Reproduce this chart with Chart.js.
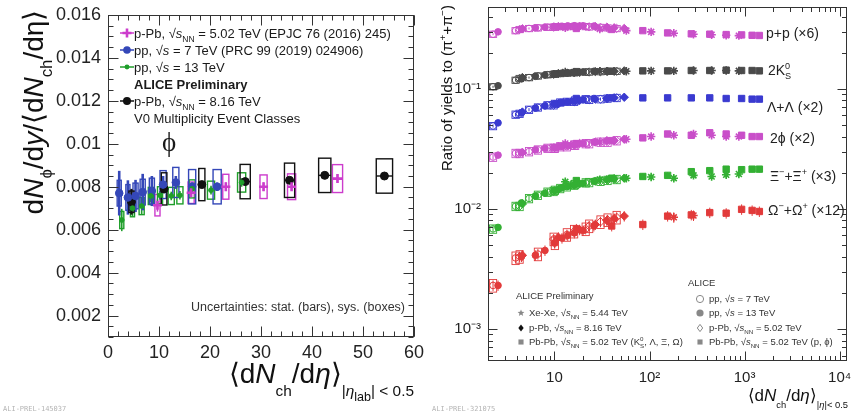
<!DOCTYPE html>
<html>
<head>
<meta charset="utf-8">
<title>phi yields vs multiplicity</title>
<script src="https://cdn.jsdelivr.net/npm/chart.js@4.4.1/dist/chart.umd.min.js"></script>
<style>
  html, body { margin: 0; padding: 0; background: #fff; }
  body { width: 853px; height: 414px; position: relative; overflow: hidden; }
  canvas { position: absolute; top: 0; }
  #phi-canvas { left: 0; }
  #ratio-canvas { left: 430px; }
</style>
</head>
<body>
<canvas id="phi-canvas" width="430" height="414"></canvas>
<canvas id="ratio-canvas" width="423" height="414"></canvas>
<script>
const SANS = '"Liberation Sans", Arial, Helvetica, sans-serif';
const SERIF = '"Liberation Serif", "Times New Roman", serif';

// ---- left panel: phi yield over <dNch/deta> ----
const phiXTicks = [0, 10, 20, 30, 40, 50, 60];
const phiYTicks = [0.002, 0.004, 0.006, 0.008, 0.010, 0.012, 0.014, 0.016];

// p-Pb 5.02 TeV (EPJC 76 (2016) 245)
const pPb5X = [9.7, 16.3, 23.1, 30.5, 36.0, 45.0];
const pPb5Y = [0.00714, 0.00772, 0.00800, 0.00800, 0.00800, 0.00838];
const pPb5Stat = [0.0003, 0.0002, 0.0002, 0.0002, 0.0002, 0.0002];
const pPb5Sys = [0.0005, 0.0005, 0.00058, 0.00055, 0.0006, 0.00065];
const pPb5SysX = [0.5, 0.6, 0.6, 0.7, 0.8, 1.0];

// pp 7 TeV (PRC 99 (2019) 024906)
const pp7X = [2.2, 3.9, 5.4, 6.8, 8.6, 10.8, 13.3, 16.5, 21.4];
const pp7Y = [0.0077, 0.0075, 0.00757, 0.00775, 0.0078, 0.0081, 0.0082, 0.0080, 0.0080];
const pp7Stat = [0.00104, 0.0008, 0.00075, 0.00085, 0.0007, 0.0004, 0.0003, 0.0002, 0.0002];
const pp7Sys = [0.0006, 0.0006, 0.0006, 0.0006, 0.0006, 0.00065, 0.0007, 0.0008, 0.0008];
const pp7SysX = [0.4, 0.4, 0.5, 0.5, 0.5, 0.6, 0.6, 0.7, 0.8];

// pp 13 TeV
const pp13X = [2.7, 4.8, 6.6, 8.4, 10.2, 12.4, 14.1, 16.5, 20.2, 26.2];
const pp13Y = [0.00645, 0.0070, 0.0071, 0.00757, 0.0076, 0.00757, 0.0076, 0.0079, 0.00784, 0.0082];
const pp13Stat = [0.00052, 0.0004, 0.0004, 0.0003, 0.0002, 0.0002, 0.0002, 0.0002, 0.0002, 0.0002];
const pp13Sys = [0.0004, 0.0004, 0.0004, 0.0004, 0.0004, 0.0004, 0.0004, 0.00042, 0.00042, 0.00045];
const pp13SysX = [0.4, 0.4, 0.5, 0.5, 0.5, 0.6, 0.6, 0.6, 0.7, 0.8];

// p-Pb 8.16 TeV (ALICE Preliminary)
const pPb8X = [4.6, 11.0, 18.4, 26.9, 35.6, 42.5, 54.2];
const pPb8Y = [0.0073, 0.0079, 0.0081, 0.00824, 0.0083, 0.00853, 0.0085];
const pPb8Stat = [0.0006, 0.0002, 0.0001, 0.0001, 0.0001, 0.0001, 0.0001];
const pPb8Sys = [0.0005, 0.00075, 0.00075, 0.0008, 0.0008, 0.0008, 0.0008];
const pPb8SysX = [0.5, 0.55, 0.6, 1.0, 1.0, 1.2, 1.6];

// ---- right panel: ratio of yields to (pi+ + pi-) ----
const ratioXTicks = [10, 100, 1000, 10000];
const ratioXLabels = ['10', '10²', '10³', '10⁴'];
const ratioYTicks = [0.001, 0.01, 0.1];
const ratioYLabels = ['10⁻³', '10⁻²', '10⁻¹'];

const sysPP7X = [2.26, 3.9, 5.4, 6.7, 8.45, 10.1, 11.5, 13.5, 16.5, 21.3];
const sysPP13X = [2.55, 4.5, 6.3, 7.95, 10.0, 12.0, 13.8, 16.2, 20.0, 26.0];
const sysPPb5X = [4.3, 9.8, 16.1, 23.2, 30.5, 36.2, 45.1];
const sysPPb8X = [4.6, 11.0, 18.4, 26.9, 35.6, 42.5, 54.2];
const sysPbPbX = [17, 40, 85, 155, 275, 430, 640, 930, 1200, 1430];
const sysXeXeX = [13, 30, 57, 104, 180, 290, 450, 640, 870];

const protonRatio = {
  pp7: [0.285, 0.305, 0.318, 0.322, 0.326, 0.328, 0.330, 0.330, 0.332, 0.330],
  pp13: [0.298, 0.314, 0.322, 0.326, 0.330, 0.332, 0.334, 0.335, 0.335, 0.333],
  pPb5: [0.312, 0.326, 0.330, 0.328, 0.325, 0.322, 0.318],
  pPb8: [0.316, 0.330, 0.332, 0.330, 0.326, 0.322, 0.318],
  PbPb: [0.318, 0.312, 0.305, 0.292, 0.287, 0.285, 0.283, 0.281, 0.279, 0.278],
  XeXe: [0.322, 0.315, 0.305, 0.298, 0.290, 0.285, 0.282, 0.279, 0.277],
};
const kaonRatio = {
  pp7: [0.104, 0.118, 0.124, 0.128, 0.131, 0.133, 0.134, 0.135, 0.137, 0.138],
  pp13: [0.106, 0.121, 0.127, 0.130, 0.133, 0.135, 0.136, 0.137, 0.138, 0.140],
  pPb5: [0.122, 0.132, 0.136, 0.138, 0.139, 0.140, 0.140],
  pPb8: [0.124, 0.134, 0.137, 0.139, 0.140, 0.140, 0.141],
  PbPb: [0.139, 0.140, 0.141, 0.141, 0.142, 0.142, 0.143, 0.142, 0.142, 0.141],
  XeXe: [0.138, 0.140, 0.140, 0.141, 0.141, 0.142, 0.142, 0.142, 0.141],
};
const lambdaRatio = {
  pp7: [0.049, 0.061, 0.067, 0.070, 0.073, 0.075, 0.077, 0.078, 0.080, 0.082],
  pp13: [0.052, 0.063, 0.069, 0.072, 0.075, 0.077, 0.078, 0.079, 0.081, 0.083],
  pPb5: [0.062, 0.073, 0.078, 0.081, 0.082, 0.083, 0.084],
  pPb8: [0.064, 0.075, 0.080, 0.082, 0.083, 0.084, 0.085],
  PbPb: [0.083, 0.084, 0.084, 0.084, 0.084, 0.084, 0.083, 0.083, 0.082, 0.082],
  XeXe: null,
};
const phiRatio = {
  pp7: [0.027, 0.029, 0.030, 0.031, 0.032, 0.032, 0.033, 0.033, 0.034, 0.035],
  pp13: [0.028, 0.0295, 0.031, 0.032, 0.0325, 0.033, 0.0335, 0.034, 0.035, 0.036],
  pPb5: [0.029, 0.032, 0.034, 0.035, 0.036, 0.036, 0.037],
  pPb8: [0.0295, 0.033, 0.035, 0.036, 0.037, 0.037, 0.038],
  PbPb: [0.035, 0.037, 0.039, 0.042, 0.041, 0.043, 0.042, 0.041, 0.040, 0.040],
  XeXe: [0.035, 0.036, 0.038, 0.040, 0.041, 0.042, 0.041, 0.040, 0.040],
};
const xiRatio = {
  pp7: [0.0068, 0.0105, 0.0122, 0.0130, 0.0138, 0.0143, 0.0148, 0.0153, 0.0160, 0.0165],
  pp13: [0.0070, 0.0112, 0.0128, 0.0135, 0.0142, 0.0150, 0.0154, 0.0158, 0.0163, 0.0170],
  pPb5: [0.0105, 0.0140, 0.0158, 0.0166, 0.0170, 0.0173, 0.0176],
  pPb8: [0.0110, 0.0145, 0.0162, 0.0170, 0.0175, 0.0178, 0.0180],
  PbPb: [0.0172, 0.0180, 0.0186, 0.0190, 0.0204, 0.0208, 0.0214, 0.0212, 0.0214, 0.0214],
  XeXe: [0.0168, 0.0175, 0.0180, 0.0184, 0.0180, 0.0190, 0.0186, 0.0192, 0.0195],
};
const omegaRatio = {
  pp7: [0.0023, 0.0039, null, 0.0042, null, 0.0052, null, 0.0061, null, 0.0068],
  pp13: [0.0023, 0.0040, 0.0041, 0.0045, 0.0052, 0.0057, 0.0060, 0.0063, 0.0066, 0.0072],
  pPb5: [0.0040, 0.0056, 0.0065, 0.0072, 0.0078, 0.0081, 0.0085],
  pPb8: [0.0041, 0.0058, 0.0067, 0.0074, 0.0080, 0.0083, 0.0087],
  PbPb: [0.0068, 0.0072, 0.0074, 0.0087, 0.0089, 0.0093, 0.0092, 0.0099, 0.0097, 0.0095],
  XeXe: [null, null, null, null, 0.0085, 0.0088, null, null, null],
};

// relative stat / sys uncertainty per species (proton, K0S, Lambda, phi, Xi, Omega)
const speciesStatRel = [0.02, 0.02, 0.03, 0.05, 0.06, 0.10];
const speciesSysRel = [0.06, 0.06, 0.07, 0.08, 0.08, 0.12];

// ---------------------------------------------------------------------------

// runs: [text, flags]; flags: i italic, b bold, s serif, _ sub, ^ sup, 2 sub-of-sub, k keep x
function drawRich(ctx, runs, x, y, size, opt = {}) {
  const subScale = opt.subScale || 0.65, subDy = opt.subDy || 0.3, supDy = opt.supDy || 0.42;
  const items = runs.map(([t, f = '']) => {
    let fs = size, dy = 0;
    if (f.includes('2')) { fs = size * 0.45; dy = size * (subDy + 0.18); }
    else if (f.includes('_')) { fs = size * subScale; dy = size * subDy; }
    else if (f.includes('^')) { fs = size * subScale; dy = -size * supDy; }
    const font = (f.includes('i') ? 'italic ' : '') + (f.includes('b') ? 'bold ' : '') +
      fs.toFixed(1) + 'px ' + (f.includes('s') ? SERIF : SANS);
    ctx.font = font;
    return { t, font, dy, w: ctx.measureText(t).width, keep: f.includes('k') };
  });
  const total = items.reduce((s, it) => s + (it.keep ? 0 : it.w), 0);
  let cx = x - (opt.align === 'center' ? total / 2 : opt.align === 'right' ? total : 0);
  ctx.textAlign = 'left';
  ctx.textBaseline = 'alphabetic';
  items.forEach(it => {
    ctx.font = it.font;
    ctx.fillText(it.t, cx, y + it.dy);
    if (!it.keep) cx += it.w;
  });
}

function drawMarker(ctx, style, x, y, r, color, open) {
  ctx.save();
  ctx.strokeStyle = color;
  ctx.fillStyle = color;
  ctx.lineWidth = 1;
  ctx.beginPath();
  if (style === 'circle') ctx.arc(x, y, r, 0, Math.PI * 2);
  else if (style === 'rect') ctx.rect(x - r * 0.71, y - r * 0.71, r * 1.42, r * 1.42);
  else if (style === 'rectRot') { ctx.moveTo(x, y - r); ctx.lineTo(x + r * 0.75, y); ctx.lineTo(x, y + r); ctx.lineTo(x - r * 0.75, y); ctx.closePath(); }
  else if (style === 'star') {
    for (let k = 0; k < 10; k++) {
      const a = -Math.PI / 2 + k * Math.PI / 5, rr = k % 2 ? r * 0.45 : r;
      ctx.lineTo(x + rr * Math.cos(a), y + rr * Math.sin(a));
    }
    ctx.closePath();
  }
  if (open) ctx.stroke(); else ctx.fill();
  ctx.restore();
}

const uncertaintyPlugin = {
  id: 'uncertainties',
  beforeDatasetsDraw(chart) {
    const { ctx } = chart;
    const xs = chart.scales.x, ys = chart.scales.y;
    ctx.save();
    chart.data.datasets.forEach(ds => {
      ds.data.forEach(p => {
        const px = xs.getPixelForValue(p.x);
        if (p.sys) {
          const l = p.sysX != null ? xs.getPixelForValue(p.x - p.sysX) : px - ds.boxHalf;
          const r = p.sysX != null ? xs.getPixelForValue(p.x + p.sysX) : px + ds.boxHalf;
          const t = ys.getPixelForValue(p.y + p.sys), b = ys.getPixelForValue(p.y - p.sys);
          ctx.strokeStyle = ds.boxColor;
          ctx.lineWidth = ds.boxWidth;
          ctx.strokeRect(l, t, r - l, b - t);
          if (ds.hbar) {
            ctx.beginPath();
            ctx.moveTo(l, ys.getPixelForValue(p.y));
            ctx.lineTo(r, ys.getPixelForValue(p.y));
            ctx.stroke();
          }
        }
        if (p.stat) {
          ctx.strokeStyle = ds.borderColor;
          ctx.lineWidth = ds.barWidth;
          ctx.beginPath();
          ctx.moveTo(px, ys.getPixelForValue(p.y + p.stat));
          ctx.lineTo(px, ys.getPixelForValue(p.y - p.stat));
          ctx.stroke();
        }
      });
    });
    ctx.restore();
  },
};

function drawFrame(chart, xMajor, xMinor, yMajor, yMinor, majLen, minLen) {
  const { ctx, chartArea: a } = chart;
  const xs = chart.scales.x, ys = chart.scales.y;
  const L = Math.round(a.left) + 0.5, R = Math.round(a.right) - 0.5;
  const T = Math.round(a.top) + 0.5, B = Math.round(a.bottom) - 0.5;
  ctx.save();
  ctx.strokeStyle = '#333';
  ctx.lineWidth = 1;
  ctx.strokeRect(L, T, R - L, B - T);
  ctx.beginPath();
  const tx = (v, len) => {
    const p = Math.round(xs.getPixelForValue(v)) + 0.5;
    ctx.moveTo(p, B); ctx.lineTo(p, B - len);
    ctx.moveTo(p, T); ctx.lineTo(p, T + len);
  };
  const ty = (v, len) => {
    const p = Math.round(ys.getPixelForValue(v)) + 0.5;
    ctx.moveTo(L, p); ctx.lineTo(L + len, p);
    ctx.moveTo(R, p); ctx.lineTo(R - len, p);
  };
  xMinor.forEach(v => tx(v, minLen));
  xMajor.forEach(v => tx(v, majLen));
  yMinor.forEach(v => ty(v, minLen));
  yMajor.forEach(v => ty(v, majLen));
  ctx.stroke();
  ctx.restore();
}

function linearSteps(from, to, step) {
  const out = [];
  for (let v = from; v <= to + step * 1e-6; v += step) out.push(+v.toFixed(6));
  return out;
}
function logMinors(min, max) {
  const out = [];
  for (let e = Math.floor(Math.log10(min)); e <= Math.ceil(Math.log10(max)); e++) {
    for (let m = 2; m <= 9; m++) {
      const v = m * Math.pow(10, e);
      if (v >= min && v <= max) out.push(v);
    }
  }
  return out;
}

// fixed axis box size; drop the label overhang padding so the frame lands where ROOT put it
function fixBox(w, h) {
  return s => {
    if (w != null) s.width = w;
    if (h != null) s.height = h;
    s.paddingLeft = s.paddingRight = s.paddingTop = s.paddingBottom = 0;
  };
}

function axisOptions(type, min, max, ticks, labels, font, padding, fit) {
  return {
    type, min, max,
    afterFit: fit,
    afterBuildTicks: s => { s.ticks = ticks.map(v => ({ value: v })); },
    ticks: {
      autoSkip: false, maxRotation: 0, padding, color: '#222',
      font: { family: SANS, size: font },
      callback: v => labels ? labels[ticks.indexOf(v)] : String(+v.toFixed(3)),
    },
    grid: { display: false, drawTicks: false },
    border: { display: false },
  };
}

// ---- left chart ----
function phiPoints(xs, ys, stat, sys, sysX) {
  return xs.map((x, i) => ({ x, y: ys[i], stat: stat[i], sys: sys[i], sysX: sysX[i] }));
}

const phiSeries = [
  { data: phiPoints(pPb5X, pPb5Y, pPb5Stat, pPb5Sys, pPb5SysX), color: '#cc3ccc', pointStyle: 'cross', radius: 4.5, bw: 2.6, barWidth: 1.5 },
  { data: phiPoints(pp13X, pp13Y, pp13Stat, pp13Sys, pp13SysX), color: '#1f9e2a', pointStyle: 'circle', radius: 2.4, bw: 1, barWidth: 1.6 },
  { data: phiPoints(pp7X, pp7Y, pp7Stat, pp7Sys, pp7SysX), color: '#3447b8', pointStyle: 'circle', radius: 3.8, bw: 1, barWidth: 2.6 },
  { data: phiPoints(pPb8X, pPb8Y, pPb8Stat, pPb8Sys, pPb8SysX), color: '#111111', pointStyle: 'circle', radius: 4, bw: 1, barWidth: 2.2, hbar: true },
];

const phiLegend = [
  { s: 0, runs: [['p-Pb, √'], ['s', 'i'], ['NN', '_'], [' = 5.02 TeV (EPJC 76 (2016) 245)']] },
  { s: 2, runs: [['pp, √'], ['s', 'i'], [' = 7 TeV (PRC 99 (2019) 024906)']] },
  { s: 1, runs: [['pp, √'], ['s', 'i'], [' = 13 TeV']] },
  { s: -1, runs: [['ALICE Preliminary', 'b']] },
  { s: 3, runs: [['p-Pb, √'], ['s', 'i'], ['NN', '_'], [' = 8.16 TeV']] },
  { s: -1, runs: [['V0 Multiplicity Event Classes']] },
];

const phiDecor = {
  id: 'phiDecor',
  afterDraw(chart) {
    const { ctx } = chart;
    drawFrame(chart, phiXTicks, linearSteps(0, 60, 2), phiYTicks, linearSteps(0.001, 0.016, 0.0005), 10, 5);
    ctx.save();
    ctx.fillStyle = '#1a1a1a';
    // legend
    phiLegend.forEach((row, i) => {
      const y = 33 + i * 17;
      if (row.s >= 0) {
        const s = phiSeries[row.s];
        ctx.strokeStyle = s.color; ctx.lineWidth = 1.5;
        ctx.beginPath(); ctx.moveTo(120, y); ctx.lineTo(134, y); ctx.stroke();
        if (s.pointStyle === 'cross') {
          ctx.lineWidth = 2.6; ctx.beginPath();
          ctx.moveTo(127, y - 4.5); ctx.lineTo(127, y + 4.5);
          ctx.moveTo(122.5, y); ctx.lineTo(131.5, y); ctx.stroke();
        } else drawMarker(ctx, 'circle', 127, y, s.radius, s.color, false);
      }
      ctx.fillStyle = '#1a1a1a';
      drawRich(ctx, row.runs, 134, y + 4.6, 13);
    });
    drawRich(ctx, [['\u03D5', 's']], 169, 151, 27, { align: 'center' });
    ctx.fillStyle = '#333';
    drawRich(ctx, [['Uncertainties: stat. (bars), sys. (boxes)']], 405, 311, 12.5, { align: 'right' });
    // axis titles
    ctx.fillStyle = '#111';
    ctx.save();
    ctx.translate(43, 112);
    ctx.rotate(-Math.PI / 2);
    drawRich(ctx, [['d'], ['N', 'i'], ['\u03D5', '_'], ['/d'], ['y', 'i'], ['/⟨d'], ['N', 'i'], ['ch', '_'], ['/dη⟩']],
      0, 0, 28, { align: 'center', subScale: 0.6, subDy: 0.32 });
    ctx.restore();
    drawRich(ctx, [['⟨d'], ['N', 'i'], ['ch', '_'], ['/d'], ['η', 'i'], ['⟩'], ['|', '_'], ['η', '_i'], ['lab', '2'], ['| < 0.5', '_']],
      414, 383, 28, { align: 'right', subScale: 0.55, subDy: 0.45 });
    ctx.fillStyle = '#b4b4b4';
    ctx.font = '7px "DejaVu Sans Mono", monospace';
    ctx.fillText('ALI-PREL-145037', 3, 411);
    ctx.restore();
  },
};

new Chart(document.getElementById('phi-canvas'), {
  type: 'scatter',
  data: {
    datasets: phiSeries.map(s => ({
      data: s.data, pointStyle: s.pointStyle, pointRadius: s.radius, pointBorderWidth: s.bw,
      borderColor: s.color, backgroundColor: s.color, barWidth: s.barWidth,
      boxColor: s.color, boxWidth: 1.4, hbar: s.hbar,
    })),
  },
  options: {
    responsive: false, animation: false, events: [],
    layout: { padding: { left: 0, right: 16, top: 15, bottom: 0 } },
    plugins: { legend: { display: false }, tooltip: { enabled: false } },
    scales: {
      x: axisOptions('linear', 0, 60, phiXTicks, null, 18, 5, fixBox(null, 77)),
      y: axisOptions('linear', 0.001, 0.016, phiYTicks, null, 18, 7, fixBox(108, null)),
    },
  },
  plugins: [uncertaintyPlugin, phiDecor],
});

// ---- right chart ----
const speciesTables = [protonRatio, kaonRatio, lambdaRatio, phiRatio, xiRatio, omegaRatio];
const speciesColors = ['#c94fc9', '#4a4a4a', '#3a3ad0', '#c94fc9', '#33b033', '#e23a3a'];
const systems = [
  { key: 'pp7', x: sysPP7X, style: 'circle', radius: 3.3, open: true, box: true },
  { key: 'pp13', x: sysPP13X, style: 'circle', radius: 3.3, open: false, box: false },
  { key: 'pPb5', x: sysPPb5X, style: 'rectRot', radius: 4.2, open: true, box: true },
  { key: 'pPb8', x: sysPPb8X, style: 'rectRot', radius: 4.2, open: false, box: false },
  { key: 'PbPb', x: sysPbPbX, style: 'rect', radius: 4.5, open: false, box: false },
  { key: 'XeXe', x: sysXeXeX, style: 'star', radius: 4.2, open: false, box: false },
];

const ratioDatasets = [];
speciesTables.forEach((tbl, si) => {
  systems.forEach(sys => {
    const ys = tbl[sys.key];
    if (!ys) return;
    const pts = [];
    sys.x.forEach((x, i) => {
      if (ys[i] == null) return;
      pts.push({ x, y: ys[i], stat: ys[i] * speciesStatRel[si], sys: sys.box ? ys[i] * speciesSysRel[si] : 0 });
    });
    const c = speciesColors[si];
    ratioDatasets.push({
      data: pts, pointStyle: sys.style, pointRadius: sys.radius,
      pointBorderWidth: sys.style === 'star' ? 1.6 : 1,
      borderColor: c, backgroundColor: sys.open ? 'rgba(255,255,255,0)' : c,
      barWidth: 1, boxColor: c, boxWidth: 0.9, boxHalf: 3.6,
    });
  });
});

const speciesLabels = [
  { x: 336, y: 38, runs: [['p+p (×6)']] },
  { x: 338, y: 75, runs: [['2K'], ['0', '^k'], ['S', '_']] },
  { x: 337, y: 112, runs: [['Λ+Λ (×2)']] },
  { x: 340, y: 143, runs: [['2\u03D5 (×2)']] },
  { x: 340, y: 181, runs: [['Ξ'], ['−', '^'], ['+Ξ'], ['+', '^'], [' (×3)']] },
  { x: 338, y: 215, runs: [['Ω'], ['−', '^'], ['+Ω'], ['+', '^'], [' (×12)']] },
];

const ratioLegendLeft = [
  { style: 'star', open: false, color: '#888', runs: [['Xe-Xe, √'], ['s', 'i'], ['NN', '_'], [' = 5.44 TeV']] },
  { style: 'rectRot', open: false, color: '#111', runs: [['p-Pb, √'], ['s', 'i'], ['NN', '_'], [' = 8.16 TeV']] },
  { style: 'rect', open: false, color: '#888', runs: [['Pb-Pb, √'], ['s', 'i'], ['NN', '_'], [' = 5.02 TeV (K'], ['0', '^k'], ['S', '_'], [', Λ, Ξ, Ω)']] },
];
const ratioLegendRight = [
  { style: 'circle', open: true, color: '#888', runs: [['pp, √'], ['s', 'i'], [' = 7 TeV']] },
  { style: 'circle', open: false, color: '#888', runs: [['pp, √'], ['s', 'i'], [' = 13 TeV']] },
  { style: 'rectRot', open: true, color: '#888', runs: [['p-Pb, √'], ['s', 'i'], ['NN', '_'], [' = 5.02 TeV']] },
  { style: 'rect', open: false, color: '#888', runs: [['Pb-Pb, √'], ['s', 'i'], ['NN', '_'], [' = 5.02 TeV (p, \u03D5)']] },
];

const ratioDecor = {
  id: 'ratioDecor',
  afterDraw(chart) {
    const { ctx } = chart;
    drawFrame(chart, ratioXTicks, logMinors(2, 12000), ratioYTicks, logMinors(0.00054, 0.48), 9, 4.5);
    ctx.save();
    ctx.fillStyle = '#222';
    speciesLabels.forEach(l => drawRich(ctx, l.runs, l.x, l.y, 14));
    ctx.fillStyle = '#333';
    drawRich(ctx, [['ALICE Preliminary']], 86, 299, 9.5);
    ratioLegendLeft.forEach((row, i) => {
      const y = [313, 328, 342][i];
      drawMarker(ctx, row.style, 91, y, 3.6, row.color, row.open);
      ctx.fillStyle = '#333';
      drawRich(ctx, row.runs, 99, y + 3.3, 9.5);
    });
    drawRich(ctx, [['ALICE']], 258, 286, 9.5);
    ratioLegendRight.forEach((row, i) => {
      const y = [299, 313, 328, 342][i];
      drawMarker(ctx, row.style, 270, y, 3.6, row.color, row.open);
      ctx.fillStyle = '#333';
      drawRich(ctx, row.runs, 279, y + 3.3, 9.5);
    });
    ctx.fillStyle = '#111';
    ctx.save();
    ctx.translate(22, 88);
    ctx.rotate(-Math.PI / 2);
    drawRich(ctx, [['Ratio of yields to (π'], ['+', '^'], ['+π'], ['−', '^'], [')']], 0, 0, 15, { align: 'center' });
    ctx.restore();
    drawRich(ctx, [['⟨d'], ['N', 'i'], ['ch', '_'], ['/d'], ['η', 'i'], ['⟩'], ['|', '_'], ['η', '_i'], ['|< 0.5', '_']],
      418, 401, 17, { align: 'right', subScale: 0.55, subDy: 0.42 });
    ctx.fillStyle = '#b4b4b4';
    ctx.font = '7px "DejaVu Sans Mono", monospace';
    ctx.fillText('ALI-PREL-321075', 2, 411);
    ctx.restore();
  },
};

new Chart(document.getElementById('ratio-canvas'), {
  type: 'scatter',
  data: { datasets: ratioDatasets },
  options: {
    responsive: false, animation: false, events: [],
    layout: { padding: { left: 0, right: 5, top: 7, bottom: 0 } },
    plugins: { legend: { display: false }, tooltip: { enabled: false } },
    scales: {
      x: axisOptions('logarithmic', 2, 12000, ratioXTicks, ratioXLabels, 15, 8, fixBox(null, 53)),
      y: axisOptions('logarithmic', 0.00054, 0.48, ratioYTicks, ratioYLabels, 15, 7, fixBox(58, null)),
    },
  },
  plugins: [uncertaintyPlugin, ratioDecor],
});
</script>
</body>
</html>
